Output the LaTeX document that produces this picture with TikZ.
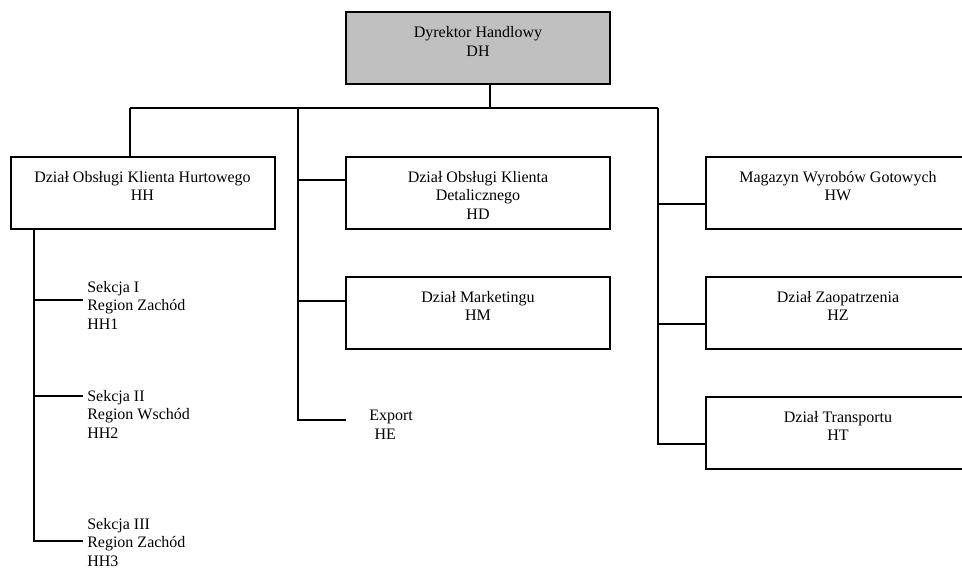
\documentclass[tikz,border=0pt]{standalone}
\usepackage{fontspec}
\setmainfont{Liberation Serif}
\begin{document}
\begin{tikzpicture}[x=0.75pt,y=-0.75pt,
  every node/.style={font=\fontsize{12}{13.8}\selectfont},
  box/.style={draw,line width=1.5pt,minimum width=198pt,minimum height=54pt,inner sep=0pt},
  label/.style={align=center,anchor=north,inner sep=0pt},
  side/.style={align=left,anchor=north west,inner sep=0pt},
  link/.style={line width=1.5pt}]
\useasboundingbox (0,0) rectangle (962,569);
\begin{scope}
\clip (0,0) rectangle (962,569);

% director
\node[box,fill={rgb,255:red,192;green,192;blue,192}] (dh) at (478,48) {};
\node[label] at ([yshift=-11.5pt]dh.north) {Dyrektor Handlowy\\DH};

% first level boxes
\node[box] (hh) at (142.5,192.5) {};
\node[label] at ([yshift=-11.5pt]hh.north) {Dział Obsługi Klienta Hurtowego\\HH};
\node[box] (hd) at (478,192.5) {};
\node[label] at ([yshift=-11.5pt]hd.north) {Dział Obsługi Klienta\\Detalicznego\\HD};
\node[box] (hm) at (478,312.5) {};
\node[label] at ([yshift=-11.5pt]hm.north) {Dział Marketingu\\HM};
\node[box] (hw) at (838,192.5) {};
\node[label] at ([yshift=-11.5pt]hw.north) {Magazyn Wyrobów Gotowych\\HW};
\node[box] (hz) at (838,312.5) {};
\node[label] at ([yshift=-11.5pt]hz.north) {Dział Zaopatrzenia\\HZ};
\node[box] (ht) at (838,432.5) {};
\node[label] at ([yshift=-11.5pt]ht.north) {Dział Transportu\\HT};

% unboxed units
\coordinate (he) at (346,420);
\node[side] (het) at (369,410) {Export\\\hspace{4pt}HE};
\coordinate (s1) at (83,300);
\coordinate (s2) at (83,396);
\coordinate (s3) at (83,541);
\node[side] at (87,281) {Sekcja I\\Region Zachód\\HH1};
\node[side] at (87,390) {Sekcja II\\Region Wschód\\HH2};
\node[side] at (87,518) {Sekcja III\\Region Zachód\\HH3};

% main bus
\coordinate (bus) at (490,108);
\coordinate (busL) at (130,108);
\coordinate (busR) at (658,108);
\draw[link] (dh.south -| bus) -- (bus);
\draw[link] (busL) -- (busR);
\draw[link] (busL) -- (hh.north -| busL);

% middle column
\coordinate (mt) at (298,108);
\draw[link] (mt) |- (he);
\draw[link] (mt |- 0,180) -- (hd.west |- 0,180);
\draw[link] (mt |- 0,301) -- (hm.west |- 0,301);

% right column
\draw[link] (busR) |- (ht.west |- 0,444);
\draw[link] (busR |- 0,204) -- (hw.west |- 0,204);
\draw[link] (busR |- 0,324) -- (hz.west |- 0,324);

% sections
\coordinate (lt) at (34,228);
\draw[link] (hh.south -| lt) |- (s3);
\draw[link] (lt |- s1) -- (s1);
\draw[link] (lt |- s2) -- (s2);
\end{scope}
\end{tikzpicture}
\end{document}
